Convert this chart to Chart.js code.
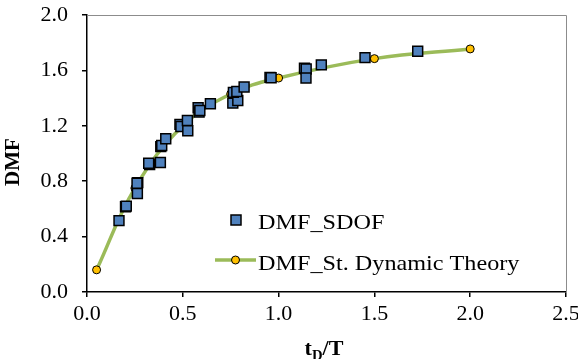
<!DOCTYPE html>
<html>
<head>
<meta charset="utf-8">
<script src="https://cdn.jsdelivr.net/npm/chart.js@4.4.1/dist/chart.umd.min.js"></script>
<style>
  html, body { margin: 0; padding: 0; background: #fff; }
  #wrap { width: 578px; height: 359px; position: relative; }
</style>
</head>
<body>
<div id="wrap"><canvas id="chart"></canvas></div>
<script>
// SDOF results (t_D/T, DMF)
var sdofX = [0.167, 0.201, 0.205, 0.263, 0.265, 0.261, 0.327, 0.322, 0.383, 0.385, 0.39, 0.411,
  0.485, 0.49, 0.524, 0.526, 0.58, 0.585, 0.589, 0.644, 0.761, 0.787, 0.764, 0.782, 0.82,
  0.955, 0.961, 1.135, 1.144, 1.143, 1.223, 1.451, 1.726];
var sdofY = [0.515, 0.615, 0.62, 0.711, 0.79, 0.785, 0.921, 0.93, 0.935, 1.05, 1.058, 1.106,
  1.21, 1.195, 1.238, 1.164, 1.33, 1.299, 1.311, 1.359, 1.364, 1.383, 1.441, 1.448, 1.48,
  1.55, 1.547, 1.615, 1.61, 1.545, 1.64, 1.692, 1.738];

// St. dynamic theory curve
var theoryX = [0.05, 0.25, 0.5, 0.75, 1.0, 1.5, 2.0];
var theoryY = [0.16, 0.75, 1.2, 1.43, 1.545, 1.685, 1.755];

var xTicks = [0, 0.5, 1.0, 1.5, 2.0, 2.5];
var yTicks = [0, 0.4, 0.8, 1.2, 1.6, 2.0];

var SERIF = '"Liberation Serif", "Times New Roman", serif';
var BLUE = '#4F81BD', GREEN = '#9BBB59', GOLD = '#FFC000';

function pts(xs, ys) {
  return xs.map(function (x, i) { return { x: x, y: ys[i] }; });
}

// gray top/right frame, axis titles and the in-plot legend
var extras = {
  id: 'extras',
  afterDraw: function (chart) {
    var ctx = chart.ctx, a = chart.chartArea;
    ctx.save();
    ctx.strokeStyle = '#8c8c8c';
    ctx.lineWidth = 1;
    ctx.beginPath();
    ctx.moveTo(a.left, a.top + 0.5);
    ctx.lineTo(a.right + 0.5, a.top + 0.5);
    ctx.lineTo(a.right + 0.5, a.bottom);
    ctx.stroke();

    // y title
    ctx.fillStyle = '#000';
    ctx.font = 'bold 21px ' + SERIF;
    ctx.textAlign = 'center';
    ctx.textBaseline = 'middle';
    ctx.save();
    ctx.translate(14, 162);
    ctx.rotate(-Math.PI / 2);
    ctx.fillText('DMF', 0, 0);
    ctx.restore();

    // x title: t_D/T
    ctx.textAlign = 'left';
    ctx.textBaseline = 'alphabetic';
    ctx.font = 'bold 21px ' + SERIF;
    var w1 = ctx.measureText('t').width;
    ctx.font = 'bold 14px ' + SERIF;
    var w2 = ctx.measureText('D').width;
    ctx.font = 'bold 21px ' + SERIF;
    var w3 = ctx.measureText('/T').width;
    var x0 = 324 - (w1 + w2 + w3) * 1.05 / 2, base = 355;
    ctx.save();
    ctx.translate(x0, base);
    ctx.scale(1.05, 1);
    ctx.fillText('t', 0, 0);
    ctx.font = 'bold 14px ' + SERIF;
    ctx.fillText('D', w1, 5);
    ctx.font = 'bold 21px ' + SERIF;
    ctx.fillText('/T', w1 + w2, 0);
    ctx.restore();

    // legend
    var ds = chart.data.datasets;
    ctx.font = '22px ' + SERIF;
    ctx.save();
    ctx.translate(258, 0);
    ctx.scale(1.1, 1);
    ctx.fillText(ds[0].label, 0, 229);
    ctx.fillText(ds[1].label, 0, 270);
    ctx.restore();
    ctx.fillStyle = BLUE;
    ctx.strokeStyle = '#000';
    ctx.lineWidth = 1.5;
    ctx.fillRect(231, 215, 10, 10);
    ctx.strokeRect(231, 215, 10, 10);
    ctx.strokeStyle = GREEN;
    ctx.lineWidth = 3.5;
    ctx.beginPath();
    ctx.moveTo(215, 260);
    ctx.lineTo(256, 260);
    ctx.stroke();
    ctx.fillStyle = GOLD;
    ctx.strokeStyle = '#000';
    ctx.lineWidth = 1;
    ctx.beginPath();
    ctx.arc(235.5, 260, 4, 0, Math.PI * 2);
    ctx.fill();
    ctx.stroke();
    ctx.restore();
  }
};

new Chart(document.getElementById('chart').getContext('2d'), {
  type: 'scatter',
  data: {
    datasets: [{
      label: 'DMF_SDOF',
      data: pts(sdofX, sdofY),
      showLine: false,
      pointStyle: 'rect',
      pointRadius: 7,
      backgroundColor: BLUE,
      borderColor: '#000',
      borderWidth: 1.5
    }, {
      label: 'DMF_St. Dynamic Theory',
      data: pts(theoryX, theoryY),
      showLine: true,
      tension: 0.4,
      borderColor: GREEN,
      borderWidth: 3.5,
      pointRadius: 4,
      pointBackgroundColor: GOLD,
      pointBorderColor: '#000',
      pointBorderWidth: 1
    }]
  },
  options: {
    responsive: true,
    maintainAspectRatio: false,
    animation: false,
    layout: { padding: { left: 0, right: 12, top: 15, bottom: 0 } },
    plugins: { legend: { display: false }, tooltip: { enabled: false } },
    scales: {
      x: {
        type: 'linear',
        min: 0,
        max: 2.5,
        afterBuildTicks: function (s) { s.ticks = xTicks.map(function (v) { return { value: v }; }); },
        afterFit: function (s) { s.height = 67; s.paddingLeft = 0; s.paddingRight = 0; },
        border: { color: '#000', width: 1.5 },
        grid: { drawOnChartArea: false, drawTicks: true, tickLength: 5, color: '#000', lineWidth: 1.5 },
        ticks: {
          padding: 4,
          color: '#000',
          font: { family: SERIF, size: 22 },
          callback: function (v) { return v.toFixed(1); }
        }
      },
      y: {
        type: 'linear',
        min: 0,
        max: 2.0,
        afterBuildTicks: function (s) { s.ticks = yTicks.map(function (v) { return { value: v }; }); },
        afterFit: function (s) { s.width = 87; s.paddingTop = 0; s.paddingBottom = 0; },
        border: { color: '#000', width: 1.5 },
        grid: { drawOnChartArea: false, drawTicks: true, tickLength: 5, color: '#000', lineWidth: 1.5 },
        ticks: {
          padding: 14,
          color: '#000',
          font: { family: SERIF, size: 22 },
          callback: function (v) { return v.toFixed(1); }
        }
      }
    }
  },
  plugins: [extras]
});
</script>
</body>
</html>
